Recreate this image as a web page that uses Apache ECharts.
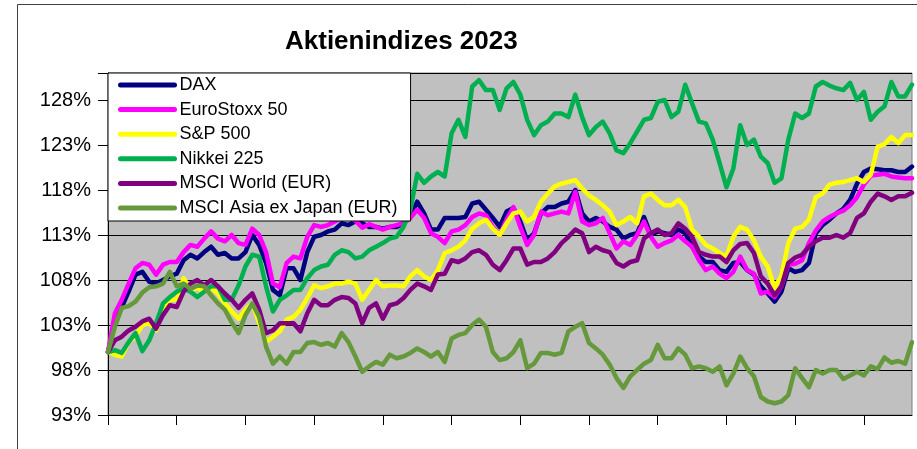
<!DOCTYPE html>
<html><head><meta charset="utf-8">
<script src="https://cdn.jsdelivr.net/npm/echarts@6/dist/echarts.min.js"></script>
<style>html,body{margin:0;padding:0;background:#fff}#c{width:917px;height:449px}</style>
</head><body><div id="c"></div>
<script>
const title = 'Aktienindizes 2023';
const seriesNames = ['DAX', 'EuroStoxx 50', 'S&P 500', 'Nikkei 225', 'MSCI World (EUR)', 'MSCI Asia ex Japan (EUR)'];
const seriesColors = ['#000080', '#FF00FF', '#FFFF00', '#00B050', '#800080', '#66993C'];
const yTicks = [93, 98, 103, 108, 113, 118, 123, 128];

const dax = [100,103.2,105,106.7,108.6,108.9,107.8,107.6,108,108.4,
108.7,110.2,110.8,110.4,111.1,111.7,110.8,111,110.4,110.4,
111.1,113,111.9,109.9,106.9,106.3,109.3,109.3,108,111.1,
112.8,113,113.4,113.6,114.3,114.1,114.5,114.3,113.9,113.9,
113.7,113.9,113.9,114.3,115,116.7,115.4,113.6,113.6,114.9,
114.9,114.9,115,116.5,116.7,115.8,114.9,113.9,115.6,116,
114.5,112.4,113.2,115.4,116.1,116.1,116.5,116.7,118,115.4,
114.5,114.9,114.5,113.9,113.6,112.6,113,113.2,115,113,
113.4,113.2,113,113.6,113.2,111.7,110.6,110,110,109.1,
108.9,109.9,110,109.1,108.6,107.3,106.5,105.6,106.7,109.3,
108.9,109.1,109.9,113.2,114.1,114.7,115.4,115.9,116.9,118.7,
120,120.4,120.3,120.2,120.2,120,120,120.6];

const euroStoxx = [100,104.3,105.8,107.6,109.3,109.9,109.7,108.6,109.7,110,
110,111.1,111.9,111.7,112.6,113.4,112.6,112.3,113,112.1,
111.9,113.7,113,111.1,107.6,107.2,109.9,110.6,110.4,112.8,
114.1,113.9,114.1,114.5,114.9,115,114.6,113.8,114.2,113.9,
113.6,113.9,114.1,114.3,114.9,115.8,114.9,113.2,112.8,112.1,
113.4,113.6,114.1,115,115.4,115.2,113.9,113,114.7,116.1,
113.9,111.9,113,115.6,115.2,115.4,115.6,115.4,117.8,114.5,
114.1,114.3,114.9,113.2,111.5,112.3,111.9,113,114.5,112.8,
111.7,112.1,112.4,113,112.3,111.7,110.2,109.1,109.5,108.7,
108.2,108.9,110.6,109.1,108.7,106.5,106.7,106.1,107.3,109.7,
109.8,110.2,112.1,113.5,114.5,115,115.4,115.7,116.3,117.2,
118.6,119.6,119.7,119.8,119.5,119.4,119.3,119.3];

const sp500 = [100,99.7,99.5,101.1,101.7,103,103.2,102.4,104.7,105.8,
105.8,108.2,106.9,107.1,106.7,107.1,106.5,105.4,104.5,103.7,
104.7,105.4,103.2,101.1,101.7,102.3,103.6,103.9,104.7,106,
107.4,107.1,107.3,107.6,107.6,107.8,107.6,105.8,106.9,108,
107.3,107.4,107.4,107.3,108.4,109.1,108.4,108,109.1,111,
111.3,111.7,112.4,113.7,114.3,114.7,113.7,113,114.3,115.4,
115.6,114.5,115,116.7,117.6,118.4,118.7,118.9,119.1,118.2,
117.4,116.9,116.3,115.6,114.1,114.5,115,114.3,117.3,117.6,
116.9,116.3,116.3,116.9,116.1,113.6,112.8,111.9,111.5,111,
110.6,112.8,113.9,113.6,112.4,110.6,109.5,107.1,108.5,112.1,
113.7,113.9,114.7,117.2,117.6,118.6,118.8,118.9,119.1,119.3,
118.9,119.7,122.8,123.1,123.9,123.2,124.1,124.1];

const nikkei = [100,100.2,99.9,101.1,102.1,100.1,101.3,103.2,105.4,106.1,
106.7,107.1,106.7,106.1,106.7,107.3,107.3,105.8,105.8,107.4,
109.5,110.8,110.6,107.3,104.5,105.8,106.3,106.9,106.9,108.2,
109.1,109.5,109.7,110.8,111.3,111.1,110.4,110.6,111.3,111.7,
112.1,112.6,112.8,113.9,115.8,119.8,118.8,119.5,120,119.5,
124.3,125.8,123.9,129.5,130.2,129.1,129.1,126.9,129.3,130,
128.6,125.8,124.1,125.2,125.6,126.5,126.5,126.1,128.6,126.1,
124.1,125,125.6,124.3,122.4,122.1,123.2,124.5,125.8,126,
127.8,128,126.1,126.7,129.7,127.6,125.6,125.4,123.6,121,
118.3,120.4,125.2,123,123.6,121.7,121,118.8,119.3,123.6,
126.5,126,126.5,129.5,130,129.6,129.3,129.1,129.9,128,
128.9,125.8,126.7,127.3,130,128.4,128.4,129.7];

const msciWorld = [100,101.3,101.7,102.4,102.8,103.4,103.7,102.6,104.1,105.2,
105,106.7,107.6,108,107.4,108,107.3,106.5,105.8,104.9,
105.8,106.5,104.7,102.1,102.4,103.2,103.2,103.2,102.3,104.3,
105.8,105.2,105.2,105.8,106.1,106,105.4,103.2,104.9,105.4,
103.7,105.2,105.4,106,106.9,107.6,107.3,106.9,108.6,108.7,
110.2,110,110.4,111.1,111.3,110.8,109.7,109.1,110.2,111.5,
111.5,109.7,110,110,110.4,111.1,112.1,112.8,113.6,113.2,
111.1,111.7,111.3,111.1,109.9,109.5,110,110.2,112.6,113.2,
113.6,113,113.2,114.3,113.7,112.8,111.1,110.8,110.6,110.6,
110,111.3,112,112.1,111,108.4,107.6,106.3,107.3,109.9,
110.5,110.8,111.7,112.3,112.7,112.7,113,112.7,113.2,114.9,
115.4,116.7,117.6,117.3,116.9,117.3,117.3,117.7];

const msciAsia = [100,102.8,104.9,105.1,105.6,106.6,107.2,107.3,107.6,108.9,
107.3,107.6,107,107.4,107.3,106.3,105.4,104.7,103.3,102.1,
104.1,105.4,103.9,100.6,98.7,99.5,98.7,100,100,101,
101.1,100.8,101,100.6,102.1,101.1,99.5,97.8,98.4,98.9,
98.6,99.7,99.3,99.5,99.9,100.4,100,99.5,100,98.9,
101.5,101.9,102.1,103,103.6,102.8,100,99.1,99.3,100,
101.3,98.2,98.7,99.9,99.9,99.7,99.9,102.3,102.8,103.2,
101,100.4,99.7,98.6,97.1,96,97.3,98,98.7,99.1,
100.8,99.3,99.3,100.4,99.7,98.2,98.4,98.2,97.8,98.4,
96.3,97.6,99.5,98.2,97.3,95,94.5,94.3,94.5,95.2,
98.2,97.1,96.1,98,97.6,98,98,97,97.4,97.8,
97.4,98.4,98.1,99.4,98.8,99,98.7,101.1];

const allValues = [dax, euroStoxx, sp500, nikkei, msciWorld, msciAsia];
const days = dax.map((_, i) => String(i + 1));

const chart = echarts.init(document.getElementById('c'), null, {renderer: 'canvas'});
const FONT = 'Liberation Sans, Arial, sans-serif';

chart.setOption({
  animation: false,
  backgroundColor: '#ffffff',
  title: {
    text: title,
    left: 280, top: 24,
    textStyle: {fontFamily: FONT, fontSize: 26, fontWeight: 'bold', color: '#000'}
  },
  legend: {
    orient: 'vertical',
    left: 108, top: 73,
    padding: [3, 13, 4, 10],
    itemWidth: 54, itemHeight: 18, itemGap: 6.6, itemTextGap: 4,
    backgroundColor: '#ffffff',
    borderColor: '#000000', borderWidth: 1,
    data: seriesNames,
    itemStyle: {opacity: 0},
    lineStyle: {width: 5, cap: 'round'},
    textStyle: {fontFamily: FONT, fontSize: 18, color: '#000', lineHeight: 18}
  },
  grid: {
    left: 108, right: 5, top: 73, bottom: 34,
    show: true, backgroundColor: '#C0C0C0', borderColor: '#808080', borderWidth: 1
  },
  xAxis: {
    type: 'category', data: days, boundaryGap: false,
    axisLine: {show: true, lineStyle: {color: '#000', width: 1}},
    axisTick: {show: true, interval: 9, length: 10, lineStyle: {color: '#000'}},
    axisLabel: {show: false},
    splitLine: {show: false}
  },
  yAxis: {
    type: 'value', min: 93, max: 131, interval: 5,
    axisLine: {show: true, lineStyle: {color: '#000', width: 1}},
    axisTick: {show: true, length: 10, lineStyle: {color: '#000'}},
    axisLabel: {
      fontFamily: FONT, fontSize: 20, color: '#000', margin: 17,
      formatter: v => (yTicks.indexOf(v) >= 0 ? v + '%' : '')
    },
    splitLine: {show: true, lineStyle: {color: '#000', width: 1}}
  },
  graphic: [
    {type: 'line', shape: {x1: 17.5, y1: 4.5, x2: 917, y2: 4.5}, style: {stroke: '#404040', lineWidth: 1}},
    {type: 'line', shape: {x1: 17.5, y1: 4.5, x2: 17.5, y2: 449}, style: {stroke: '#404040', lineWidth: 1}}
  ],
  series: seriesNames.map((n, i) => ({
    name: n, type: 'line', data: allValues[i],
    showSymbol: false, symbol: 'none', smooth: false,
    color: seriesColors[i],
    lineStyle: {color: seriesColors[i], width: 4.5, join: 'round', cap: 'round'},
    emphasis: {disabled: true}
  }))
});
</script>
</body></html>
